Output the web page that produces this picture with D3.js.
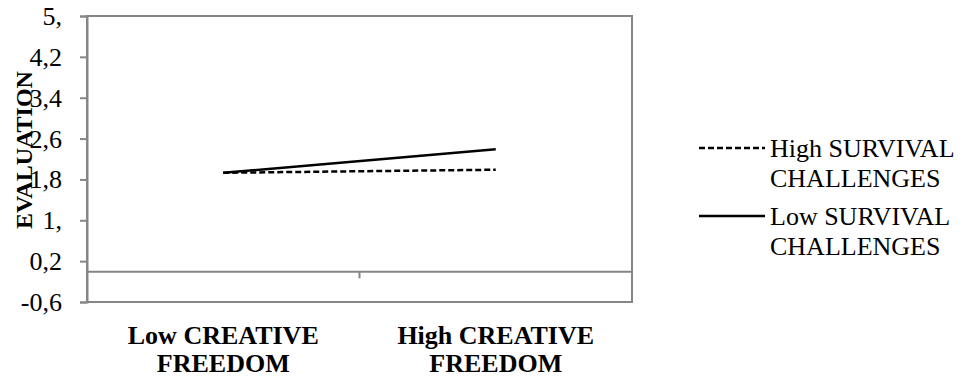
<!DOCTYPE html>
<html><head><meta charset="utf-8">
<script src="https://cdn.jsdelivr.net/npm/d3@7"></script>
</head><body>
<svg id="chart" width="975" height="377" style="position:absolute;left:0;top:0;"></svg>
<script>
const categories = ["Low CREATIVE FREEDOM", "High CREATIVE FREEDOM"];
const categoryLines = [["Low CREATIVE", "FREEDOM"], ["High CREATIVE", "FREEDOM"]];
const seriesNames = ["High SURVIVAL CHALLENGES", "Low SURVIVAL CHALLENGES"];
const seriesLegendLines = [["High SURVIVAL", "CHALLENGES"], ["Low SURVIVAL", "CHALLENGES"]];
const highSurvival = [1.93, 1.99];
const lowSurvival = [1.93, 2.39];
const yTicks = [-0.6, 0.2, 1, 1.8, 2.6, 3.4, 4.2, 5];
const yTickLabels = ["-0,6", "0,2", "1,", "1,8", "2,6", "3,4", "4,2", "5,"];
const yTitle = "EVALUATION";

const svg = d3.select("#chart");
const margin = {left: 87, right: 975 - 632, top: 16, bottom: 377 - 302};
const W = 975, H = 377;
const x = d3.scaleBand().domain(categories).range([margin.left, W - margin.right]).padding(0);
const y = d3.scaleLinear().domain([-0.6, 5]).range([H - margin.bottom, margin.top]);
const gray = "#868686";
const f = "Liberation Serif";

// plot box
svg.append("rect").attr("x", margin.left).attr("y", margin.top)
  .attr("width", W - margin.right - margin.left).attr("height", H - margin.bottom - margin.top)
  .attr("fill", "none").attr("stroke", gray).attr("stroke-width", 2);

// y axis (ticks via d3 axis; labels drawn as plain texts from the same scale)
const yAxis = d3.axisLeft(y).tickValues(yTicks).tickSize(7).tickFormat("");
const gy = svg.append("g").attr("transform", `translate(${margin.left},0)`).call(yAxis);
gy.select(".domain").attr("stroke", gray).attr("stroke-width", 2);
gy.selectAll(".tick line").attr("stroke", gray).attr("stroke-width", 2);
gy.selectAll(".tick text").remove();

// x axis at zero
const xAxis = d3.axisBottom(x).tickSize(0).tickFormat("");
const gx = svg.append("g").attr("transform", `translate(0,${y(0)})`).call(xAxis);
gx.select(".domain").attr("stroke", gray).attr("stroke-width", 2);
gx.selectAll(".tick text").remove();
const bounds = categories.slice(1).map(c => x(c));
gx.selectAll(".btick").data(bounds).join("line").attr("class", "btick")
  .attr("x1", d => d).attr("x2", d => d).attr("y1", 0).attr("y2", 7)
  .attr("stroke", gray).attr("stroke-width", 2);

// lines
const line = d3.line().x((d, i) => x(categories[i]) + x.bandwidth() / 2).y(d => y(d));
svg.append("path").datum(highSurvival).attr("d", line).attr("fill", "none")
  .attr("stroke", "#000").attr("stroke-width", 2.5).attr("stroke-dasharray", "6,3");
svg.append("path").datum(lowSurvival).attr("d", line).attr("fill", "none")
  .attr("stroke", "#000").attr("stroke-width", 2.5);

// legend lines
const legendY = [148, 216];
const dashes = ["6,3", null];
legendY.forEach((ly, i) => {
  svg.append("line").attr("x1", 699).attr("x2", 765).attr("y1", ly).attr("y2", ly)
    .attr("stroke", "#000").attr("stroke-width", 2.5).attr("stroke-dasharray", dashes[i]);
});

// texts
yTicks.forEach((v, i) => {
  svg.append("text").attr("x", margin.left - 25).attr("y", y(v) + 9)
    .attr("text-anchor", "end")
    .style("font-family", `"${f}"`).style("font-size", "26px").text(yTickLabels[i]);
});
categoryLines.forEach((lines, i) => {
  const cx = x(categories[i]) + x.bandwidth() / 2;
  lines.forEach((ln, j) => svg.append("text").attr("x", cx).attr("y", 344 + j * 28)
    .attr("text-anchor", "middle")
    .style("font-family", `"${f}"`).style("font-weight", "bold").style("font-size", "26px").text(ln));
});
svg.append("text").attr("transform", `translate(32,150) rotate(-90)`)
  .attr("text-anchor", "middle")
  .style("font-family", `"${f}"`).style("font-weight", "bold").style("font-size", "24px").text(yTitle);
seriesLegendLines.forEach((lines, i) => {
  lines.forEach((ln, j) => svg.append("text").attr("x", 770).attr("y", legendY[i] + 9 + j * 30)
    .style("font-family", `"${f}"`).style("font-size", "26px").text(ln));
});
</script>
</body></html>
